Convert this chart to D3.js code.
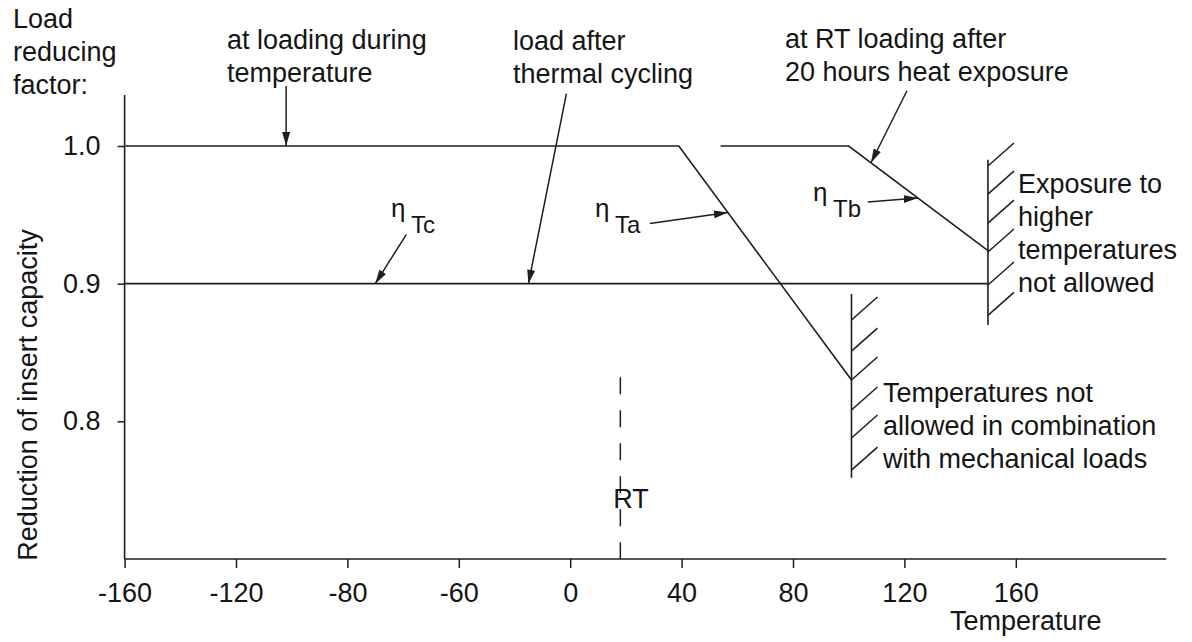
<!DOCTYPE html>
<html><head><meta charset="utf-8">
<script src="https://cdn.jsdelivr.net/npm/d3@7"></script>
<style>
body{margin:0;background:#fff}
svg{display:block}
text{font-family:"Liberation Sans",Arial,sans-serif;fill:#151515}
</style>
</head><body><svg id="c" width="1192" height="642"></svg>
<script>
// ---------- data ----------
const xTickValues = [-160, -120, -80, -40, 0, 40, 80, 120, 160];
const xTickLabels = ["-160", "-120", "-80", "-60", "0", "40", "80", "120", "160"];
const yTickValues = [0.8, 0.9, 1.0];
const yTickLabels = ["0.8", "0.9", "1.0"];
const xExtent = [-160, 214];
const yExtent = [0.7, 1.037];
const etaTa = [{t: -160, v: 1.0}, {t: 39, v: 1.0}, {t: 101, v: 0.830}];
const etaTb = [{t: 54, v: 1.0}, {t: 100, v: 1.0}, {t: 150, v: 0.924}];
const etaTc = [{t: -160, v: 0.9}, {t: 150, v: 0.9}];
const rtTemp = 18;
const rtTop = 0.832;
const hatchA = {t: 101, v0: 0.759, v1: 0.8925, ticks: [0.8736, 0.851, 0.830, 0.8082, 0.7879, 0.7646]};
const hatchB = {t: 150, v0: 0.870, v1: 0.990, ticks: [0.9855, 0.965, 0.944, 0.923, 0.899, 0.877]};

// ---------- layout ----------
const svg = d3.select("#c");
const x = d3.scaleLinear().domain([-160, 160]).range([124.6, 1015.8]);
const y = d3.scaleLinear().domain([0.7, 1.0]).range([559, 146]);
const ink = "#1e1e1e";
const FS = 27, LH = 33;
const FF = '"Liberation Sans",Arial,sans-serif';

// arrow marker
svg.append("defs").append("marker")
  .attr("id", "ah").attr("markerUnits", "userSpaceOnUse")
  .attr("viewBox", "0 0 14 8").attr("refX", 14).attr("refY", 4)
  .attr("markerWidth", 14).attr("markerHeight", 8).attr("orient", "auto")
  .append("path").attr("d", "M0,0L14,4L0,8Z").attr("fill", ink);

// axes
const gx = svg.append("g").attr("transform", `translate(0,${y(0.7)})`)
  .call(d3.axisBottom(x).tickValues(xTickValues)
    .tickFormat((d, i) => xTickLabels[i]).tickSizeInner(9).tickSizeOuter(0).tickPadding(15));
gx.select(".domain").remove();
gx.selectAll("line").attr("stroke", ink).attr("stroke-width", 1.5);
gx.selectAll("text").attr("font-size", FS).attr("font-family", FF).attr("fill", "#151515");

const gy = svg.append("g").attr("transform", `translate(${x(-160)},0)`)
  .call(d3.axisLeft(y).tickValues(yTickValues)
    .tickFormat((d, i) => yTickLabels[i]).tickSizeInner(7).tickSizeOuter(0).tickPadding(17));
gy.select(".domain").remove();
gy.selectAll("line").attr("stroke", ink).attr("stroke-width", 1.5);
gy.selectAll("text").attr("font-size", FS).attr("font-family", FF).attr("fill", "#151515");

// axis lines
svg.append("line").attr("x1", x(xExtent[0])).attr("x2", x(xExtent[1]))
  .attr("y1", y(yExtent[0])).attr("y2", y(yExtent[0])).attr("stroke", ink).attr("stroke-width", 1.6);
svg.append("line").attr("x1", x(xExtent[0])).attr("x2", x(xExtent[0]))
  .attr("y1", y(yExtent[0])).attr("y2", y(yExtent[1])).attr("stroke", ink).attr("stroke-width", 1.6);

// series
const line = d3.line().x(d => x(d.t)).y(d => y(d.v));
[etaTa, etaTb, etaTc].forEach(s => {
  svg.append("path").datum(s).attr("d", line).attr("fill", "none")
    .attr("stroke", ink).attr("stroke-width", 1.6).attr("stroke-linejoin", "miter");
});

// RT dashed line
svg.append("line").attr("x1", x(rtTemp)).attr("x2", x(rtTemp))
  .attr("y1", y(rtTop)).attr("y2", y(yExtent[0]))
  .attr("stroke", ink).attr("stroke-width", 1.5).attr("stroke-dasharray", "17,16");
svg.append("text").attr("x", x(rtTemp) - 7).attr("y", 508).attr("font-size", FS).text("RT");

// hatches
[hatchA, hatchB].forEach(h => {
  svg.append("line").attr("x1", x(h.t)).attr("x2", x(h.t))
    .attr("y1", y(h.v0)).attr("y2", y(h.v1)).attr("stroke", ink).attr("stroke-width", 1.6);
  h.ticks.forEach(v => {
    svg.append("line").attr("x1", x(h.t)).attr("y1", y(v))
      .attr("x2", x(h.t) + 26).attr("y2", y(v) - 23)
      .attr("stroke", ink).attr("stroke-width", 1.5);
  });
});

// annotation arrows (tips lie on the series)
const seriesMap = {Ta: etaTa, Tb: etaTb, Tc: etaTc};
function vAt(s, t) {
  for (let i = 0; i < s.length - 1; i++) {
    if (t >= s[i].t && t <= s[i + 1].t) {
      const f = (t - s[i].t) / (s[i + 1].t - s[i].t);
      return s[i].v + f * (s[i + 1].v - s[i].v);
    }
  }
  return s[s.length - 1].v;
}
const arrows = [
  {s: "Ta", t: -102, dx: 0, dy: -60},
  {s: "Tc", t: -15, dx: 38, dy: -190},
  {s: "Tc", t: -70, dx: 31, dy: -49},
  {s: "Ta", t: 56.6, dx: -78, dy: 11},
  {s: "Tb", t: 124.8, dx: -50, dy: 4},
  {s: "Tb", t: 108, dx: 36, dy: -72}
];
arrows.forEach(a => {
  const tx = x(a.t), ty = y(vAt(seriesMap[a.s], a.t));
  svg.append("line").attr("x1", tx + a.dx).attr("y1", ty + a.dy)
    .attr("x2", tx).attr("y2", ty)
    .attr("stroke", ink).attr("stroke-width", 1.5).attr("marker-end", "url(#ah)");
});

// text blocks
const textBlocks = [
  {x: 13, y: 28, lines: ["Load", "reducing", "factor:"]},
  {x: 227, y: 49, lines: ["at loading during", "temperature"]},
  {x: 513, y: 50, lines: ["load after", "thermal cycling"]},
  {x: 785, y: 48, lines: ["at RT loading after", "20 hours heat exposure"]},
  {x: 1018, y: 193, lines: ["Exposure to", "higher", "temperatures", "not allowed"]},
  {x: 883, y: 402, lines: ["Temperatures not", "allowed in combination", "with mechanical loads"]}
];
textBlocks.forEach(b => {
  b.lines.forEach((l, i) => {
    svg.append("text").attr("x", b.x).attr("y", b.y + i * LH).attr("font-size", FS).text(l);
  });
});

// eta labels
const etaLabels = [
  {x: 391, y: 233, sub: "Tc"},
  {x: 595, y: 233, sub: "Ta"},
  {x: 813, y: 217, sub: "Tb"}
];
etaLabels.forEach(e => {
  svg.append("text").attr("x", e.x).attr("y", e.y - 16.5).attr("font-size", 26).text("η");
  svg.append("text").attr("x", e.x + 20).attr("y", e.y).attr("font-size", 24).text(e.sub);
});

// axis titles
svg.append("text").attr("x", 950).attr("y", 630).attr("font-size", FS).text("Temperature");
svg.append("text").attr("transform", "translate(37,395) rotate(-90)")
  .attr("text-anchor", "middle").attr("font-size", FS).text("Reduction of insert capacity");
</script>
</body></html>
